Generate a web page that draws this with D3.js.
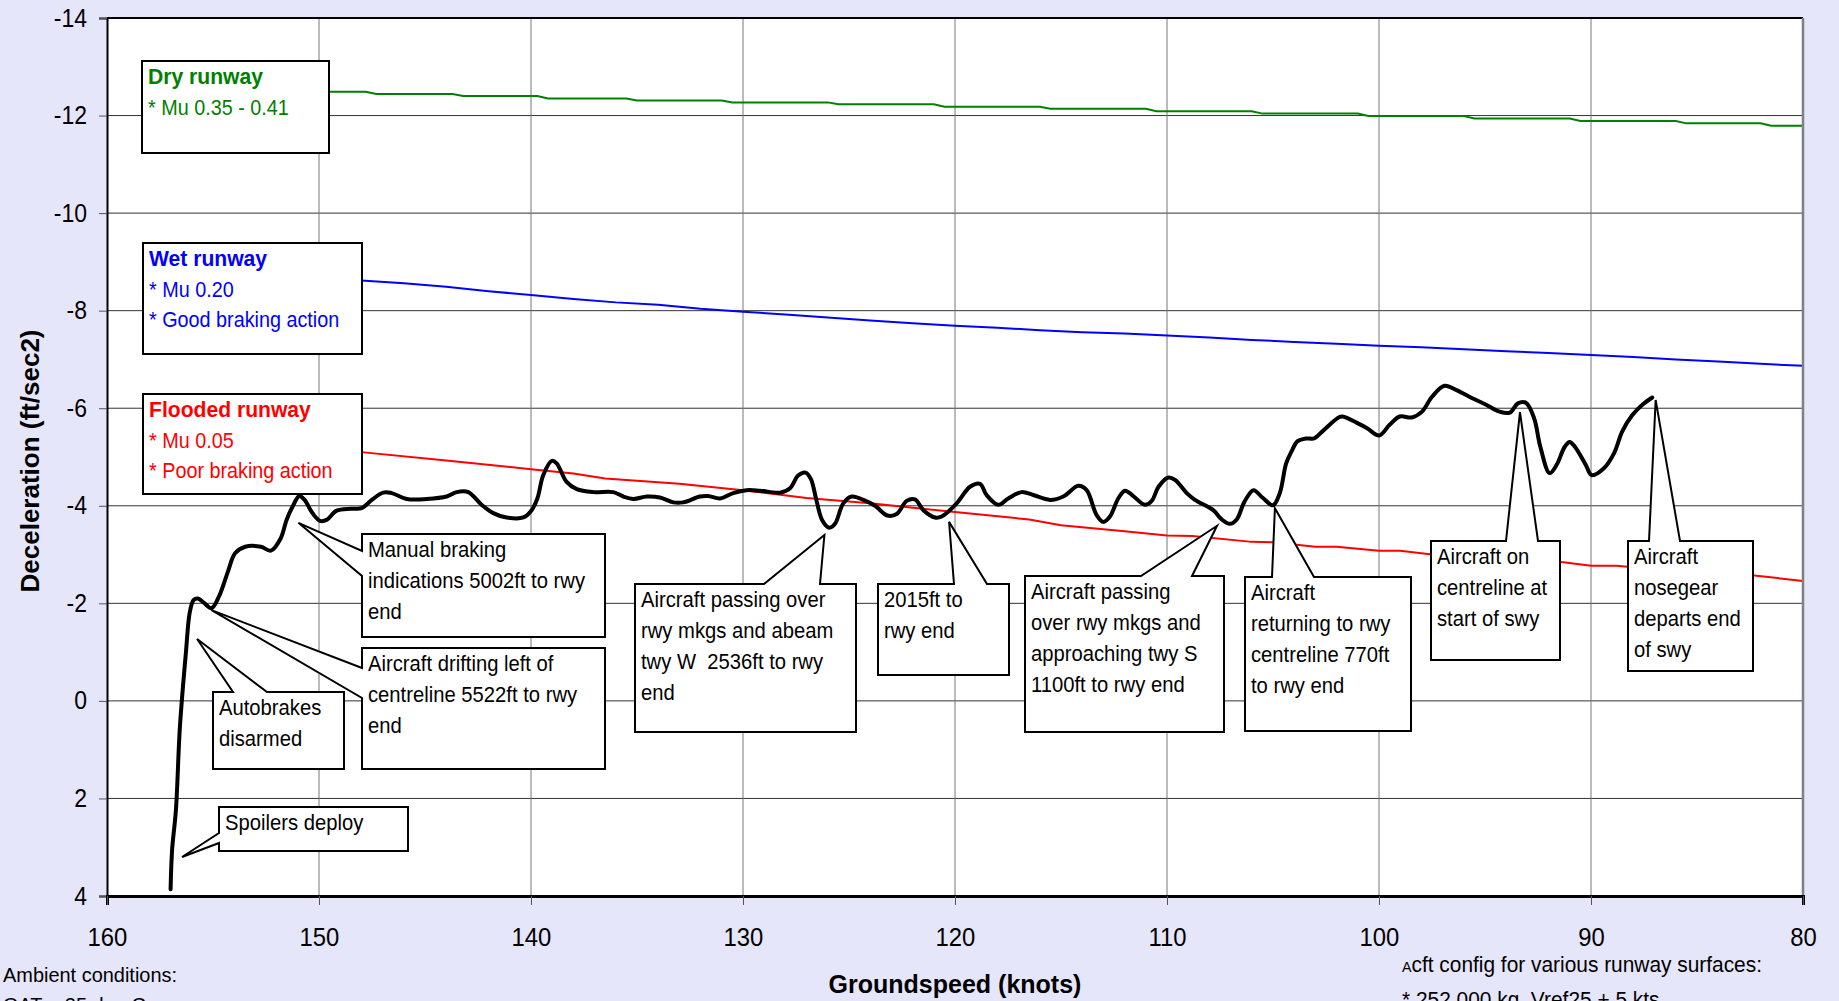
<!DOCTYPE html>
<html><head><meta charset="utf-8">
<script src="https://cdn.jsdelivr.net/npm/d3@7"></script>
<style>
html,body{margin:0;padding:0;background:#E6E6FA;overflow:hidden}
svg{display:block;font-family:"Liberation Sans",Arial,sans-serif}
</style>
</head><body>
<svg id="chart" width="1839" height="1001"></svg>
<script>
// ---------------- DATA ----------------
const xTicks = [160,150,140,130,120,110,100,90,80];
const yTicks = [-14,-12,-10,-8,-6,-4,-2,0,2,4];

// Dry runway (Mu 0.35 - 0.41)
const dryKnots = [157,147.8,147.3,143.7,143.2,139.7,139.2,135.5,135,131,130.5,126,125.5,121,120.5,116,115.5,111,110.5,106,105.5,101,100.5,96,95.5,91,90.5,86,85.5,82,81.5,80];
const dryDecel = [-12.49,-12.49,-12.44,-12.44,-12.40,-12.40,-12.35,-12.35,-12.31,-12.31,-12.27,-12.27,-12.23,-12.23,-12.18,-12.18,-12.14,-12.14,-12.09,-12.09,-12.04,-12.04,-11.99,-11.99,-11.94,-11.94,-11.89,-11.89,-11.84,-11.84,-11.79,-11.79];

// Wet runway (Mu 0.20)
const wetKnots = [157,148,146,144,142,140,138,136,134,132,130,128,126,124,122,120,118,116,114,112,110,108,106,104,102,100,98,96,94,92,90,88,86,84,82,80];
const wetDecel = [-8.85,-8.62,-8.56,-8.49,-8.40,-8.32,-8.24,-8.17,-8.12,-8.04,-7.98,-7.92,-7.86,-7.80,-7.74,-7.69,-7.65,-7.60,-7.56,-7.53,-7.49,-7.45,-7.40,-7.36,-7.32,-7.28,-7.25,-7.21,-7.17,-7.13,-7.09,-7.05,-7.00,-6.96,-6.91,-6.87];

// Flooded runway (Mu 0.05)
const floodKnots = [157,148,144,140,138,136.5,133,130,127,124,120,116.5,115,112,110,108.8,106,105,103,102,100,99,97.5,95,91.3,90,88.8,88,85,82.3,80];
const floodDecel = [-5.45,-5.10,-4.93,-4.75,-4.66,-4.56,-4.45,-4.32,-4.16,-4.05,-3.87,-3.72,-3.60,-3.48,-3.39,-3.38,-3.26,-3.25,-3.16,-3.16,-3.08,-3.08,-3.00,-2.94,-2.84,-2.77,-2.77,-2.74,-2.66,-2.57,-2.46];

// Actual recorded deceleration
const actualKnots = [157.00,156.93,156.75,156.56,156.28,156.09,155.91,155.72,155.45,155.07,154.69,154.32,153.95,153.48,152.74,152.27,151.81,151.53,151.25,150.93,150.68,150.31,149.95,149.64,149.17,148.5,147.99,147.51,146.97,146.57,145.86,144.92,143.98,143.51,142.96,142.33,141.78,141.15,140.36,139.97,139.70,139.42,139.02,138.79,138.32,137.84,137.06,136.12,135.65,135.17,134.54,133.92,133.29,132.82,132.03,131.64,131.08,130.46,129.83,129.20,128.25,127.78,127.40,127.05,126.80,126.54,126.27,125.93,125.66,125.27,124.87,124.32,123.77,123.19,122.75,122.28,121.89,121.49,120.94,120.63,119.92,119.29,118.82,118.51,117.96,117.49,116.86,116.31,115.52,114.89,114.18,113.79,113.32,113.00,112.69,112.30,111.98,111.59,111.04,110.72,110.40,109.94,109.62,109.07,108.68,107.82,107.42,107.03,106.71,106.35,105.92,105.50,105.00,104.68,104.38,104.12,103.85,103.44,103.06,102.68,101.91,101.72,101.04,100.56,99.99,99.50,99.02,98.45,97.97,97.49,96.91,96.34,95.76,94.99,94.31,93.83,93.45,93.07,92.68,92.39,91.95,91.62,91.24,91.01,90.76,90.25,89.97,89.39,88.91,88.53,88.05,87.55,87.11];
const actualDecel = [3.86,3.06,2.24,0.53,-0.98,-1.83,-2.07,-2.10,-2.02,-1.90,-2.17,-2.62,-3.03,-3.16,-3.16,-3.08,-3.33,-3.71,-3.98,-4.20,-4.12,-3.85,-3.69,-3.71,-3.90,-3.94,-3.95,-4.12,-4.27,-4.26,-4.14,-4.14,-4.19,-4.28,-4.28,-4.02,-3.85,-3.76,-3.76,-3.91,-4.15,-4.63,-4.92,-4.87,-4.49,-4.34,-4.28,-4.28,-4.19,-4.14,-4.19,-4.17,-4.07,-4.07,-4.19,-4.20,-4.15,-4.26,-4.32,-4.31,-4.27,-4.36,-4.62,-4.68,-4.55,-4.12,-3.71,-3.55,-3.63,-4.05,-4.19,-4.12,-4.00,-3.80,-3.83,-4.10,-4.13,-3.91,-3.76,-3.78,-4.05,-4.39,-4.45,-4.22,-4.02,-4.15,-4.28,-4.22,-4.12,-4.19,-4.41,-4.32,-3.81,-3.67,-3.78,-4.15,-4.31,-4.20,-4.02,-4.10,-4.39,-4.58,-4.53,-4.26,-4.12,-3.91,-3.72,-3.63,-3.72,-4.08,-4.32,-4.17,-4.01,-4.26,-4.87,-5.12,-5.32,-5.38,-5.38,-5.52,-5.81,-5.83,-5.70,-5.59,-5.44,-5.66,-5.83,-5.81,-5.93,-6.24,-6.46,-6.37,-6.24,-6.08,-5.93,-5.91,-6.10,-6.11,-5.79,-5.21,-4.67,-4.84,-5.21,-5.31,-5.21,-4.84,-4.63,-4.77,-5.08,-5.52,-5.86,-6.08,-6.22];

// Legend texts
const legendTitles = ["Dry runway","Wet runway","Flooded runway"];
const legendNotes = [["* Mu 0.35 - 0.41"],["* Mu 0.20","* Good braking action"],["* Mu 0.05","* Poor braking action"]];

// Callout texts and the (knots, decel) point each one points to
const calloutTexts = [
  ["Manual braking","indications 5002ft to rwy","end"],
  ["Aircraft drifting left of","centreline 5522ft to rwy","end"],
  ["Autobrakes","disarmed"],
  ["Spoilers deploy"],
  ["Aircraft passing over","rwy mkgs and abeam","twy W  2536ft to rwy","end"],
  ["2015ft to","rwy end"],
  ["Aircraft passing","over rwy mkgs and","approaching twy S","1100ft to rwy end"],
  ["Aircraft","returning to rwy","centreline 770ft","to rwy end"],
  ["Aircraft on","centreline at","start of swy"],
  ["Aircraft","nosegear","departs end","of swy"]
];
const calloutTipKnots = [150.97,155.07,155.75,156.46,126.16,120.28,107.64,104.91,93.35,86.95];
const calloutTipDecel = [-3.65,-1.86,-1.27,3.20,-3.40,-3.67,-3.59,-3.95,-5.92,-6.17];

const xTitle = "Groundspeed (knots)";
const yTitle = "Deceleration (ft/sec2)";
const noteLeft = ["Ambient conditions:","OAT = 25 deg C"];
const noteRight = ["cft config for various runway surfaces:","* 252,000 kg, Vref25 + 5 kts"];

// ---------------- LAYOUT ----------------
const W = 1839, H = 1001;
const plot = {left:107, right:1803, top:18, bottom:896};
const x = d3.scaleLinear().domain([160,80]).range([plot.left, plot.right]);
const y = d3.scaleLinear().domain([-14,4]).range([plot.top, plot.bottom]);

const legendBoxes = [
  {x:142,y:61,w:187,h:92,color:"#008000"},
  {x:143,y:243,w:219,h:111,color:"#0000FF"},
  {x:143,y:394,w:219,h:100,color:"#FF0000"}
];
const calloutBoxes = [
  {x:362,y:534,w:243,h:103,side:"left",b1:551,b2:576},
  {x:362,y:648,w:243,h:121,side:"left",b1:668,b2:698},
  {x:213,y:692,w:131,h:77,side:"top",b1:233,b2:267},
  {x:219,y:807,w:189,h:44,side:"left",b1:833,b2:843},
  {x:635,y:584,w:221,h:148,side:"top",b1:764,b2:820},
  {x:878,y:584,w:131,h:91,side:"top",b1:954,b2:987},
  {x:1025,y:576,w:199,h:156,side:"top",b1:1141,b2:1192},
  {x:1245,y:577,w:166,h:154,side:"top",b1:1272,b2:1314},
  {x:1431,y:541,w:129,h:119,side:"top",b1:1506,b2:1538},
  {x:1628,y:541,w:125,h:130,side:"top",b1:1649,b2:1680}
];

// text drawn horizontally condensed (the original uses a narrow face)
function ctext(g, tx, ty, sx, str){
  return g.append("text").attr("transform",`translate(${tx},${ty}) scale(${sx},1)`)
    .attr("xml:space","preserve").style("white-space","pre").text(str);
}

const svg = d3.select("#chart");
svg.append("rect").attr("width",W).attr("height",H).attr("fill","#E6E6FA");
svg.append("rect").attr("x",plot.left).attr("y",plot.top)
  .attr("width",plot.right-plot.left).attr("height",plot.bottom-plot.top).attr("fill","#fff");

// grid
const grid = svg.append("g");
grid.selectAll(".hg").data(yTicks.filter(d=>d!==-14 && d!==4)).enter().append("line")
  .attr("x1",plot.left).attr("x2",plot.right).attr("y1",d=>y(d)).attr("y2",d=>y(d))
  .attr("stroke","#333").attr("stroke-width",1);
grid.selectAll(".vg").data(xTicks.filter(d=>d!==160 && d!==80)).enter().append("line")
  .attr("y1",plot.top).attr("y2",plot.bottom).attr("x1",d=>x(d)).attr("x2",d=>x(d))
  .attr("stroke","#777").attr("stroke-width",1);

// series
const zip = (a,b)=>a.map((v,i)=>[v,b[i]]);
const line = d3.line().x(d=>x(d[0])).y(d=>y(d[1]));
const series = [
  {k:dryKnots,d:dryDecel,c:"#008000",w:2},
  {k:wetKnots,d:wetDecel,c:"#0000FF",w:2},
  {k:floodKnots,d:floodDecel,c:"#FF0000",w:2}
];
series.forEach(s=>{
  svg.append("path").attr("d",line(zip(s.k,s.d))).attr("fill","none")
    .attr("stroke",s.c).attr("stroke-width",s.w);
});
svg.append("path")
  .attr("d",d3.line().x(d=>x(d[0])).y(d=>y(d[1])).curve(d3.curveCatmullRom.alpha(0.5))(zip(actualKnots,actualDecel)))
  .attr("fill","none").attr("stroke","#000").attr("stroke-width",4)
  .attr("stroke-linejoin","round").attr("stroke-linecap","round");

// legend boxes
legendBoxes.forEach((b,i)=>{
  const g = svg.append("g");
  g.append("rect").attr("x",b.x).attr("y",b.y).attr("width",b.w).attr("height",b.h)
    .attr("fill","#fff").attr("stroke","#000").attr("stroke-width",2);
  ctext(g, b.x+6, b.y+23, 0.96, legendTitles[i]).attr("fill",b.color)
    .attr("font-size",22).attr("font-weight","bold");
  legendNotes[i].forEach((t,j)=>{
    ctext(g, b.x+6, b.y+23+30.5*(j+1), 0.9, t).attr("fill",b.color).attr("font-size",22);
  });
});

// callouts
calloutBoxes.forEach((b,i)=>{
  const tx = x(calloutTipKnots[i]), ty = y(calloutTipDecel[i]);
  let pts;
  if (b.side==="left") {
    pts = [[b.x,b.y],[b.x+b.w,b.y],[b.x+b.w,b.y+b.h],[b.x,b.y+b.h],[b.x,b.b2],[tx,ty],[b.x,b.b1]];
  } else {
    pts = [[b.x,b.y],[b.b1,b.y],[tx,ty],[b.b2,b.y],[b.x+b.w,b.y],[b.x+b.w,b.y+b.h],[b.x,b.y+b.h]];
  }
  const g = svg.append("g");
  g.append("path").attr("d","M"+pts.map(p=>p.join(",")).join("L")+"Z")
    .attr("fill","#fff").attr("stroke","#000").attr("stroke-width",2).attr("stroke-linejoin","miter");
  calloutTexts[i].forEach((t,j)=>{
    ctext(g, b.x+6, b.y+23+31*j, 0.92, t).attr("fill","#000").attr("font-size",22);
  });
});

// plot frame
svg.append("line").attr("x1",plot.left).attr("x2",plot.right).attr("y1",plot.top).attr("y2",plot.top).attr("stroke","#000").attr("stroke-width",2);
svg.append("line").attr("x1",plot.right).attr("x2",plot.right).attr("y1",plot.top).attr("y2",plot.bottom).attr("stroke","#808080").attr("stroke-width",2.5);

// axes
const yAxis = svg.append("g").attr("transform",`translate(${plot.left},0)`)
  .call(d3.axisLeft(y).tickValues(yTicks).tickFormat(d=>String(d)).tickSize(8).tickPadding(12));
yAxis.select(".domain").attr("stroke","#000").attr("stroke-width",2);
yAxis.selectAll(".tick line").attr("stroke","#555");
yAxis.selectAll("text").attr("font-size",25).attr("fill","#000")
  .attr("x",-20/0.92).attr("transform","scale(0.92,1)")
  .attr("font-family","Liberation Sans, Arial, sans-serif");

const xAxis = svg.append("g").attr("transform",`translate(0,${plot.bottom})`)
  .call(d3.axisBottom(x).tickValues(xTicks).tickFormat(d=>String(d)).tickSize(9).tickPadding(10));
xAxis.select(".domain").attr("stroke","#000").attr("stroke-width",3);
xAxis.selectAll(".tick line").attr("stroke","#555");
xAxis.selectAll("text").attr("font-size",26.5).attr("fill","#000").attr("dy",0).attr("y",50)
  .attr("transform","scale(0.9,1)")
  .attr("font-family","Liberation Sans, Arial, sans-serif");

// axis titles
svg.append("text").attr("x",(plot.left+plot.right)/2).attr("y",993).attr("text-anchor","middle")
  .attr("font-size",25).attr("font-weight","bold").text(xTitle);
svg.append("text").attr("transform",`translate(39,${(plot.top+plot.bottom)/2+4}) rotate(-90)`)
  .attr("text-anchor","middle").attr("font-size",26).attr("font-weight","bold").text(yTitle);

// footnotes
noteLeft.forEach((t,i)=>{
  ctext(svg, 3, 982+30*i, 0.95, t).attr("font-size",21);
});
const nr = svg.append("text").attr("transform","translate(1402,972) scale(0.95,1)").attr("font-size",22);
nr.append("tspan").attr("font-size",15).text("A");
nr.append("tspan").text(noteRight[0]);
ctext(svg, 1402, 1007, 0.95, noteRight[1]).attr("font-size",22);
</script>
</body></html>
